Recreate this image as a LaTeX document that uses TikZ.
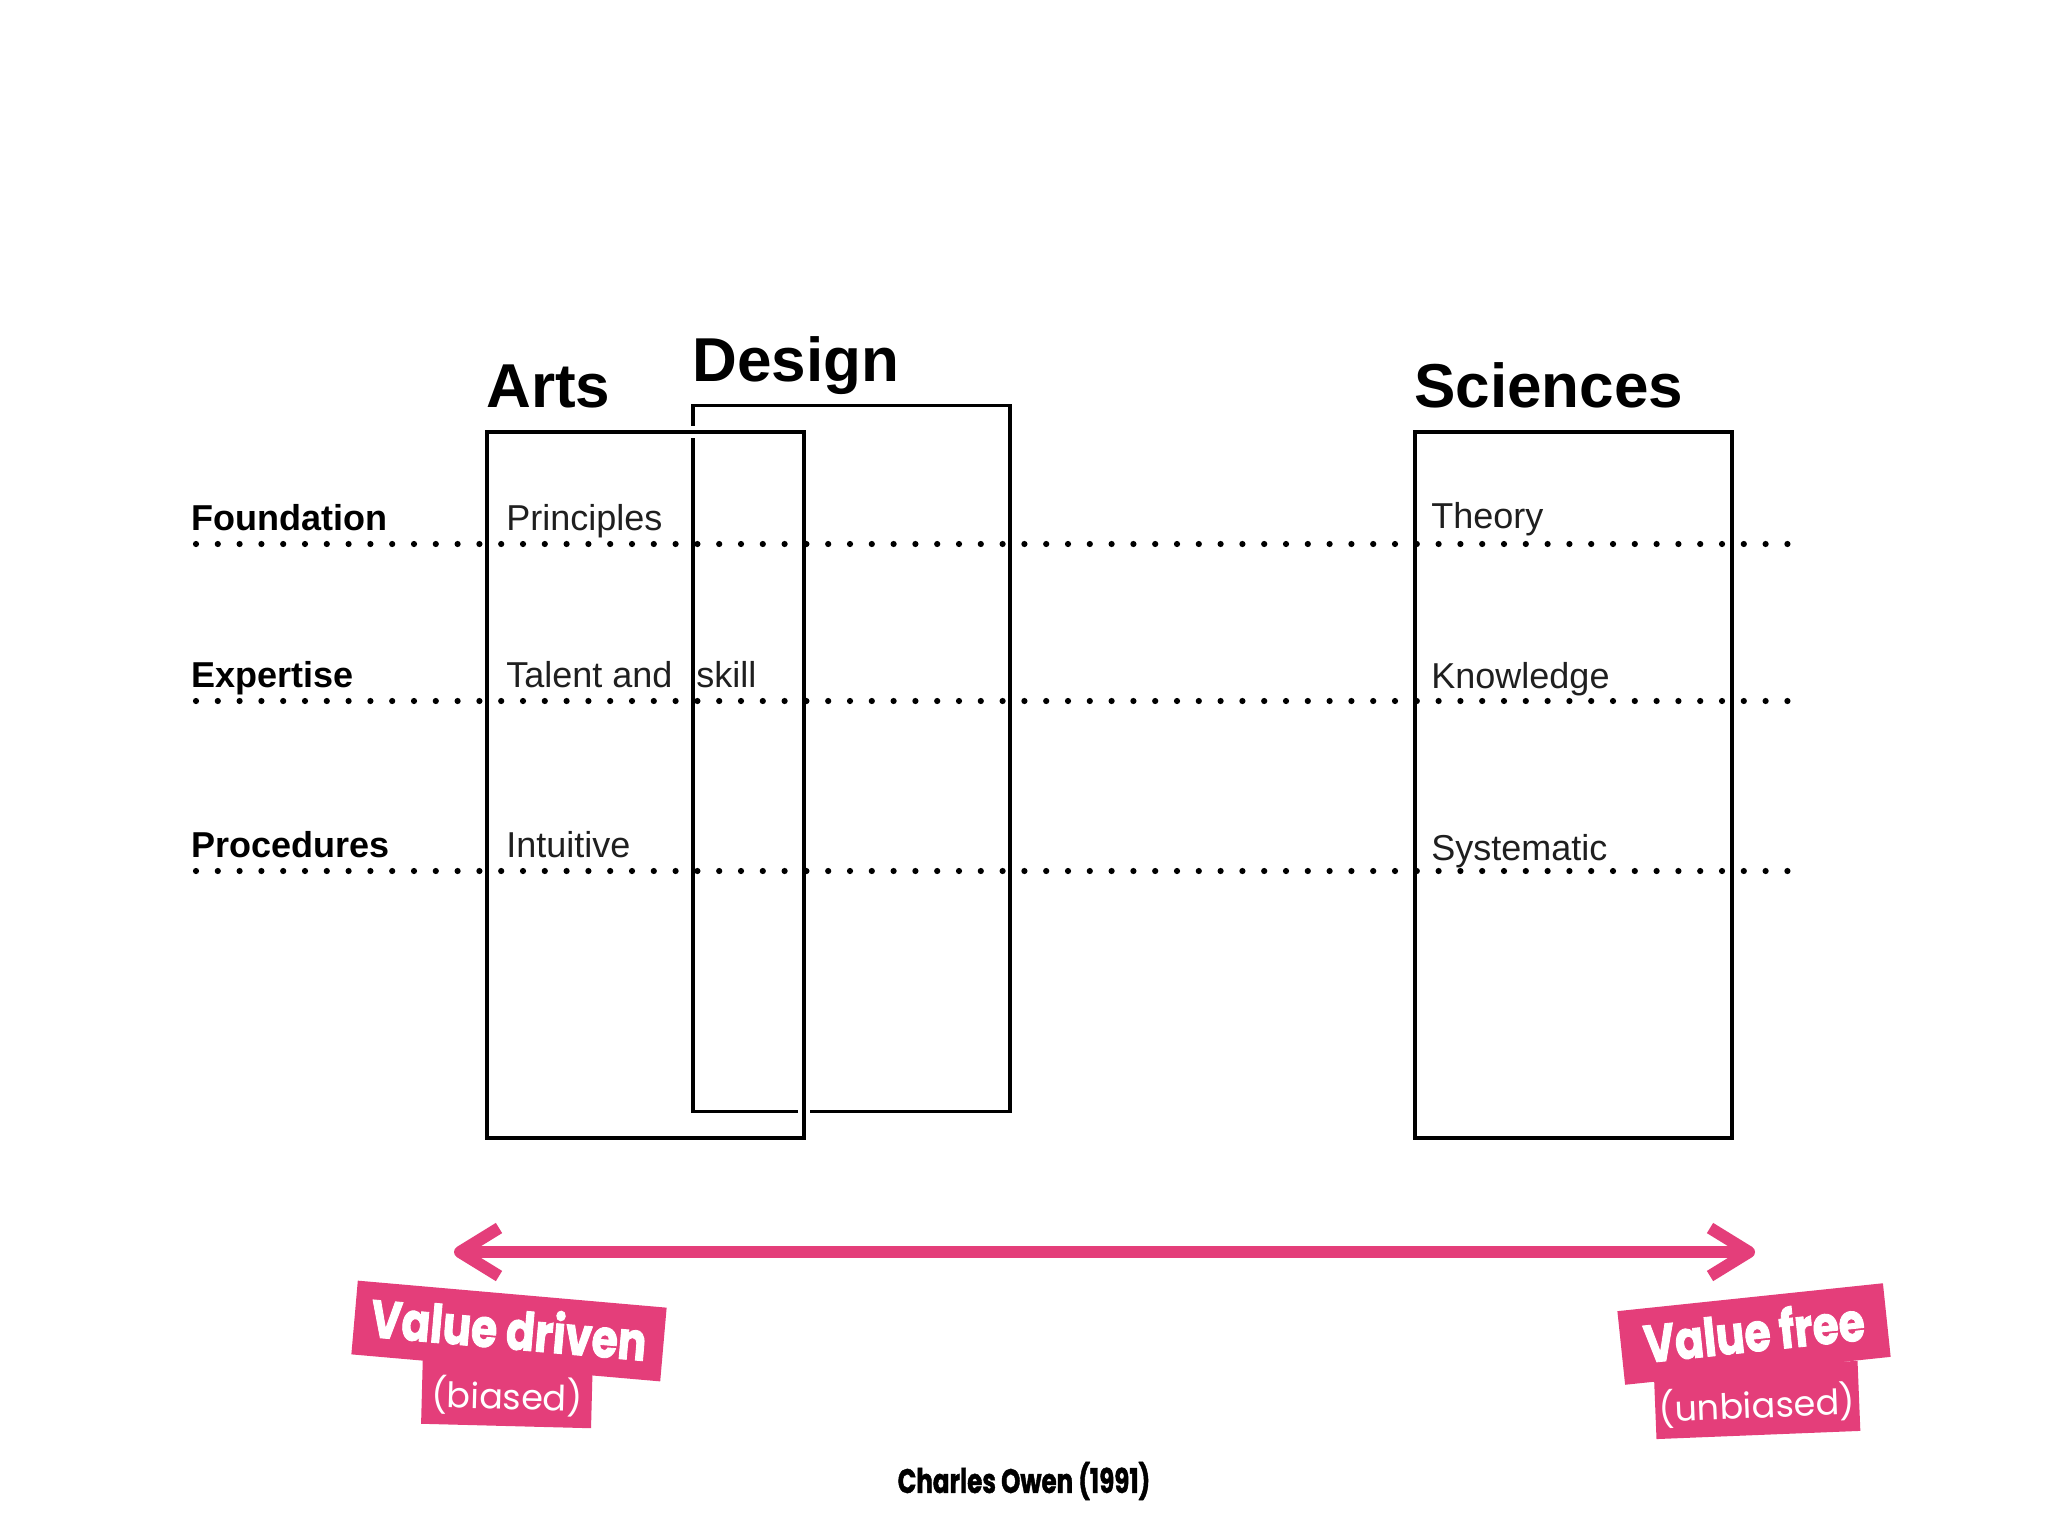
\documentclass[tikz,border=0pt]{standalone}
\usepackage{fontspec}
\setmainfont{Liberation Sans}
\newfontfamily\vdfont[FakeStretch=0.8, FakeBold=1.6]{Poppins}
\newfontfamily\vlfont{Poppins}
\newfontfamily\cofont[FakeStretch=0.72, FakeBold=1.2]{Poppins}
\definecolor{hotpink}{RGB}{228,62,122}
\tikzset{
 box/.style={draw=black, line width=1.6pt, inner sep=0pt, minimum width=158.5pt, minimum height=353pt},
 title/.style={anchor=base west, inner sep=0pt, font=\bfseries\fontsize{31}{36}\selectfont},
 rowlab/.style={anchor=base west, inner sep=0pt, font=\bfseries\fontsize{18}{21}\selectfont},
 cell/.style={anchor=base west, inner sep=0pt, font=\fontsize{18}{21}\selectfont, text=black!88},
 dotline/.style={line width=3.1pt, line cap=round, dash pattern=on 0pt off 10.9pt},
 pinkline/.style={draw=hotpink, line width=6pt, line join=round},
 tag/.style={fill=hotpink, inner sep=0pt},
 bigtxt/.style={inner sep=0pt, text=white, font=\vdfont\bfseries\fontsize{26.5}{30}\selectfont},
 smalltxt/.style={inner sep=0pt, text=white, font=\vlfont\fontsize{17.5}{20}\selectfont},
}
\begin{document}
\begin{tikzpicture}[x=0.5pt,y=-0.5pt]
\useasboundingbox[fill=white] (0,0) rectangle (2048,1536);

% boxes
\node[box] (design) at (851.5,758.5) {};
\node[box, preaction={draw=white, line width=6pt}] (arts) at (645.5,785) {};
\node[box] (sci) at (1573.5,785) {};

% dotted rows
\coordinate (fL) at (196,544);  \coordinate (fR) at (1790,544);
\coordinate (eL) at (196,701);  \coordinate (eR) at (1790,701);
\coordinate (pL) at (196,871);  \coordinate (pR) at (1790,871);
\draw[dotline] (fL) -- (fR);
\draw[dotline] (eL) -- (eR);
\draw[dotline] (pL) -- (pR);

% titles
\node[title] (tArts) at (486,407) {Arts};
\node[title] (tDesign) at (692,381) {Design};
\node[title] (tSci) at (1414,407) {Sciences};

% row labels
\node[rowlab] (lf) at (191,530) {Foundation};
\node[rowlab] (le) at (191,687) {Expertise};
\node[rowlab] (lp) at (191,857) {Procedures};

% cells
\node[cell] (c1) at (506,530) {Principles};
\node[cell] (c2) at (506,687) {Talent and\hspace{12pt}skill};
\node[cell] (c3) at (506,857) {Intuitive};
\node[cell] (s1) at (1431,528) {Theory};
\node[cell] (s2) at (1431,688) {Knowledge};
\node[cell] (s3) at (1431,860) {Systematic};

% arrow
\coordinate (aL) at (460,1252);  \coordinate (aR) at (1749,1252);
\coordinate (aLu) at (499,1228); \coordinate (aLd) at (499,1276);
\coordinate (aRu) at (1710,1228); \coordinate (aRd) at (1710,1276);
\draw[pinkline] (aL) -- (aR);
\draw[pinkline] (aLu) -- (aL) -- (aLd);
\draw[pinkline] (aRu) -- (aR) -- (aRd);

% tag backgrounds
\node[tag, minimum width=85pt, minimum height=36pt, rotate=-1.5] (biasedbg) at (507,1390) {};
\node[tag, minimum width=155pt, minimum height=37pt, rotate=-5] (vdrivenbg) at (509,1331) {};
\node[tag, minimum width=102pt, minimum height=35pt, rotate=2.3] (unbiasedbg) at (1757,1400) {};
\node[tag, minimum width=133.5pt, minimum height=37pt, rotate=6] (vfreebg) at (1754,1334) {};

% tag texts
\node[smalltxt, rotate=-1.5] (biased) at (507,1396) {(biased)};
\node[bigtxt, rotate=-5] (vdriven) at (509,1328) {Value driven};
\node[smalltxt, rotate=2.3] (unbiased) at (1757,1405) {(unbiased)};
\node[bigtxt, rotate=6] (vfree) at (1754,1331) {Value free};

% credit
\node[font=\cofont\bfseries\fontsize{17}{20}\selectfont, inner sep=0pt] (credit) at (1024,1481) {Charles Owen (1991)};
\end{tikzpicture}
\end{document}
